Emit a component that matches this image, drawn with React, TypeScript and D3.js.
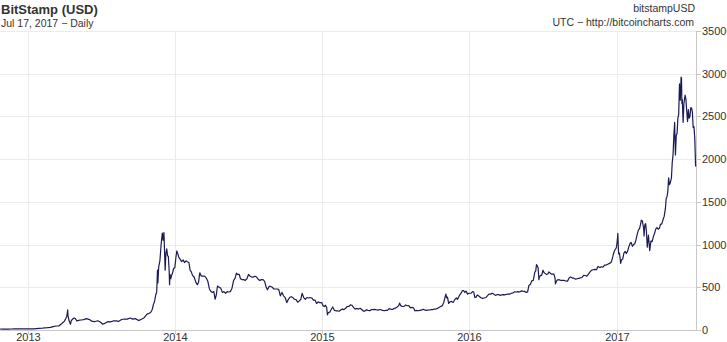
import React from "react";
import * as d3 from "d3";

type Pt = [string, number];

const prices2012: Pt[] = [
  ["2012-10-23", 11.7], ["2012-10-30", 10.9], ["2012-11-06", 10.9], ["2012-11-13", 11.0],
  ["2012-11-20", 11.7], ["2012-11-27", 12.2], ["2012-12-04", 13.4], ["2012-12-11", 13.5],
  ["2012-12-18", 13.3], ["2012-12-25", 13.4], ["2012-12-31", 13.5],
];

const prices2013: Pt[] = [
  ["2013-01-07", 13.6], ["2013-01-14", 14.2], ["2013-01-21", 16.3], ["2013-01-28", 18.9],
  ["2013-02-04", 20.4], ["2013-02-11", 24.3], ["2013-02-18", 26.9], ["2013-02-25", 30.9],
  ["2013-03-04", 40.4], ["2013-03-11", 46.9], ["2013-03-18", 47.4], ["2013-03-25", 74],
  ["2013-03-29", 90], ["2013-04-01", 104], ["2013-04-04", 132], ["2013-04-07", 162],
  ["2013-04-09", 235], ["2013-04-10", 165], ["2013-04-12", 117], ["2013-04-16", 68],
  ["2013-04-18", 110], ["2013-04-21", 126], ["2013-04-25", 141], ["2013-04-28", 134],
  ["2013-05-02", 105], ["2013-05-06", 112], ["2013-05-12", 117], ["2013-05-19", 121],
  ["2013-05-26", 133], ["2013-06-02", 122], ["2013-06-09", 100], ["2013-06-16", 99],
  ["2013-06-23", 108], ["2013-06-30", 90], ["2013-07-05", 68], ["2013-07-10", 77],
  ["2013-07-17", 97], ["2013-07-24", 95], ["2013-07-31", 106], ["2013-08-07", 106],
  ["2013-08-14", 101], ["2013-08-21", 123], ["2013-08-28", 129], ["2013-09-04", 128],
  ["2013-09-11", 140], ["2013-09-18", 127], ["2013-09-25", 133], ["2013-10-02", 110],
  ["2013-10-09", 126], ["2013-10-16", 144], ["2013-10-23", 186], ["2013-10-28", 195],
  ["2013-11-01", 205], ["2013-11-05", 240], ["2013-11-08", 300], ["2013-11-11", 340],
  ["2013-11-14", 420], ["2013-11-16", 440], ["2013-11-18", 700], ["2013-11-19", 550],
  ["2013-11-21", 740], ["2013-11-24", 810], ["2013-11-27", 1000], ["2013-11-30", 1135],
  ["2013-12-02", 1050], ["2013-12-04", 1140], ["2013-12-05", 1000], ["2013-12-07", 700],
  ["2013-12-09", 900], ["2013-12-11", 950], ["2013-12-13", 870], ["2013-12-15", 860],
  ["2013-12-17", 690], ["2013-12-18", 530], ["2013-12-19", 650], ["2013-12-21", 600],
  ["2013-12-23", 640], ["2013-12-25", 660], ["2013-12-28", 720], ["2013-12-31", 730],
];

const prices2014: Pt[] = [
  ["2014-01-03", 860], ["2014-01-05", 925], ["2014-01-07", 900], ["2014-01-10", 850],
  ["2014-01-13", 830], ["2014-01-17", 800], ["2014-01-21", 820], ["2014-01-24", 790],
  ["2014-01-28", 810], ["2014-01-31", 800], ["2014-02-04", 790], ["2014-02-07", 700],
  ["2014-02-10", 680], ["2014-02-13", 640], ["2014-02-17", 620], ["2014-02-21", 560],
  ["2014-02-25", 530], ["2014-02-28", 560], ["2014-03-03", 670], ["2014-03-07", 630],
  ["2014-03-11", 630], ["2014-03-15", 630], ["2014-03-19", 610], ["2014-03-23", 570],
  ["2014-03-27", 480], ["2014-03-31", 450], ["2014-04-03", 440], ["2014-04-07", 450],
  ["2014-04-10", 360], ["2014-04-13", 410], ["2014-04-16", 515], ["2014-04-20", 500],
  ["2014-04-24", 490], ["2014-04-28", 440], ["2014-05-02", 450], ["2014-05-06", 430],
  ["2014-05-10", 450], ["2014-05-14", 445], ["2014-05-18", 450], ["2014-05-22", 490],
  ["2014-05-26", 580], ["2014-05-30", 610], ["2014-06-02", 665], ["2014-06-05", 650],
  ["2014-06-09", 650], ["2014-06-12", 600], ["2014-06-16", 590], ["2014-06-20", 590],
  ["2014-06-24", 580], ["2014-06-28", 600], ["2014-07-02", 650], ["2014-07-06", 630],
  ["2014-07-10", 620], ["2014-07-14", 620], ["2014-07-18", 630], ["2014-07-22", 620],
  ["2014-07-26", 595], ["2014-07-30", 580], ["2014-08-03", 590], ["2014-08-07", 590],
  ["2014-08-11", 570], ["2014-08-15", 500], ["2014-08-18", 470], ["2014-08-22", 510],
  ["2014-08-26", 510], ["2014-08-30", 500], ["2014-09-03", 480], ["2014-09-07", 480],
  ["2014-09-11", 480], ["2014-09-15", 475], ["2014-09-19", 400], ["2014-09-23", 440],
  ["2014-09-27", 400], ["2014-10-01", 380], ["2014-10-05", 320], ["2014-10-08", 350],
  ["2014-10-12", 380], ["2014-10-16", 390], ["2014-10-20", 380], ["2014-10-24", 360],
  ["2014-10-28", 355], ["2014-11-01", 325], ["2014-11-05", 340], ["2014-11-09", 360],
  ["2014-11-12", 430], ["2014-11-16", 380], ["2014-11-20", 360], ["2014-11-24", 380],
  ["2014-11-28", 375], ["2014-12-02", 380], ["2014-12-06", 375], ["2014-12-10", 350],
  ["2014-12-14", 350], ["2014-12-18", 310], ["2014-12-22", 330], ["2014-12-26", 320],
  ["2014-12-31", 320],
];

const prices2015: Pt[] = [
  ["2015-01-03", 285], ["2015-01-06", 275], ["2015-01-09", 290], ["2015-01-12", 265],
  ["2015-01-14", 178], ["2015-01-16", 205], ["2015-01-20", 210], ["2015-01-24", 245],
  ["2015-01-27", 270], ["2015-01-31", 230], ["2015-02-04", 225], ["2015-02-08", 225],
  ["2015-02-12", 220], ["2015-02-16", 235], ["2015-02-20", 245], ["2015-02-24", 238],
  ["2015-02-28", 255], ["2015-03-04", 275], ["2015-03-08", 275], ["2015-03-12", 295],
  ["2015-03-16", 290], ["2015-03-20", 262], ["2015-03-24", 245], ["2015-03-28", 252],
  ["2015-04-01", 245], ["2015-04-05", 255], ["2015-04-09", 240], ["2015-04-13", 222],
  ["2015-04-17", 222], ["2015-04-21", 236], ["2015-04-25", 230], ["2015-04-29", 225],
  ["2015-05-03", 240], ["2015-05-07", 238], ["2015-05-11", 242], ["2015-05-15", 237],
  ["2015-05-19", 232], ["2015-05-23", 240], ["2015-05-27", 237], ["2015-05-31", 230],
  ["2015-06-04", 225], ["2015-06-08", 229], ["2015-06-12", 230], ["2015-06-16", 250],
  ["2015-06-20", 244], ["2015-06-24", 240], ["2015-06-28", 250], ["2015-07-02", 256],
  ["2015-07-06", 270], ["2015-07-10", 285], ["2015-07-12", 315], ["2015-07-15", 285],
  ["2015-07-19", 275], ["2015-07-23", 277], ["2015-07-27", 293], ["2015-07-31", 284],
  ["2015-08-04", 285], ["2015-08-08", 260], ["2015-08-12", 265], ["2015-08-16", 258],
  ["2015-08-19", 225], ["2015-08-23", 230], ["2015-08-27", 225], ["2015-08-31", 230],
  ["2015-09-04", 232], ["2015-09-08", 243], ["2015-09-12", 235], ["2015-09-16", 230],
  ["2015-09-20", 232], ["2015-09-24", 234], ["2015-09-28", 239], ["2015-10-02", 238],
  ["2015-10-06", 246], ["2015-10-10", 245], ["2015-10-14", 253], ["2015-10-18", 263],
  ["2015-10-22", 275], ["2015-10-26", 285], ["2015-10-30", 325], ["2015-11-03", 405],
  ["2015-11-04", 420], ["2015-11-06", 375], ["2015-11-08", 385], ["2015-11-11", 310],
  ["2015-11-14", 330], ["2015-11-18", 335], ["2015-11-22", 322], ["2015-11-26", 355],
  ["2015-11-30", 375], ["2015-12-03", 360], ["2015-12-06", 390], ["2015-12-09", 415],
  ["2015-12-12", 435], ["2015-12-15", 460], ["2015-12-18", 462], ["2015-12-21", 440],
  ["2015-12-24", 455], ["2015-12-28", 420], ["2015-12-31", 430],
];

const prices2016: Pt[] = [
  ["2016-01-03", 430], ["2016-01-06", 430], ["2016-01-09", 450], ["2016-01-12", 445],
  ["2016-01-15", 380], ["2016-01-18", 385], ["2016-01-21", 410], ["2016-01-24", 400],
  ["2016-01-27", 390], ["2016-01-30", 378], ["2016-02-03", 370], ["2016-02-07", 375],
  ["2016-02-11", 380], ["2016-02-15", 400], ["2016-02-19", 420], ["2016-02-23", 420],
  ["2016-02-27", 430], ["2016-03-02", 420], ["2016-03-06", 405], ["2016-03-10", 413],
  ["2016-03-14", 415], ["2016-03-18", 405], ["2016-03-22", 412], ["2016-03-26", 415],
  ["2016-03-30", 412], ["2016-04-03", 418], ["2016-04-07", 420], ["2016-04-11", 421],
  ["2016-04-15", 430], ["2016-04-19", 435], ["2016-04-23", 448], ["2016-04-27", 445],
  ["2016-05-01", 450], ["2016-05-05", 445], ["2016-05-09", 458], ["2016-05-13", 455],
  ["2016-05-17", 453], ["2016-05-21", 440], ["2016-05-25", 447], ["2016-05-28", 520],
  ["2016-06-01", 535], ["2016-06-04", 575], ["2016-06-08", 580], ["2016-06-12", 680],
  ["2016-06-14", 690], ["2016-06-16", 765], ["2016-06-18", 750], ["2016-06-20", 730],
  ["2016-06-22", 590], ["2016-06-23", 620], ["2016-06-26", 640], ["2016-06-29", 640],
  ["2016-07-02", 700], ["2016-07-05", 670], ["2016-07-08", 660], ["2016-07-11", 650],
  ["2016-07-14", 655], ["2016-07-17", 680], ["2016-07-20", 665], ["2016-07-23", 655],
  ["2016-07-26", 655], ["2016-07-29", 655], ["2016-08-01", 610], ["2016-08-02", 540],
  ["2016-08-05", 575], ["2016-08-08", 590], ["2016-08-12", 587], ["2016-08-16", 580],
  ["2016-08-20", 580], ["2016-08-24", 580], ["2016-08-28", 573], ["2016-09-01", 572],
  ["2016-09-05", 608], ["2016-09-09", 622], ["2016-09-13", 608], ["2016-09-17", 607],
  ["2016-09-21", 595], ["2016-09-25", 600], ["2016-09-29", 605], ["2016-10-03", 610],
  ["2016-10-07", 615], ["2016-10-11", 640], ["2016-10-15", 638], ["2016-10-19", 630],
  ["2016-10-23", 655], ["2016-10-27", 680], ["2016-10-31", 700], ["2016-11-04", 705],
  ["2016-11-08", 710], ["2016-11-12", 705], ["2016-11-16", 745], ["2016-11-20", 730],
  ["2016-11-24", 740], ["2016-11-28", 735], ["2016-12-02", 760], ["2016-12-06", 760],
  ["2016-12-10", 770], ["2016-12-14", 780], ["2016-12-18", 790], ["2016-12-21", 830],
  ["2016-12-24", 890], ["2016-12-27", 930], ["2016-12-31", 960],
];

const prices2017: Pt[] = [
  ["2017-01-02", 1020], ["2017-01-04", 1130], ["2017-01-05", 990], ["2017-01-06", 890],
  ["2017-01-08", 900], ["2017-01-11", 780], ["2017-01-13", 820], ["2017-01-16", 830],
  ["2017-01-19", 900], ["2017-01-22", 920], ["2017-01-25", 895], ["2017-01-28", 920],
  ["2017-01-31", 970], ["2017-02-03", 1010], ["2017-02-06", 1025], ["2017-02-09", 980],
  ["2017-02-12", 1000], ["2017-02-15", 1010], ["2017-02-18", 1055], ["2017-02-21", 1120],
  ["2017-02-24", 1170], ["2017-02-27", 1190], ["2017-03-02", 1250], ["2017-03-03", 1285],
  ["2017-03-06", 1275], ["2017-03-09", 1190], ["2017-03-10", 1100], ["2017-03-12", 1230],
  ["2017-03-14", 1245], ["2017-03-16", 1150], ["2017-03-18", 970], ["2017-03-21", 1110],
  ["2017-03-24", 930], ["2017-03-27", 1040], ["2017-03-30", 1035], ["2017-04-02", 1090],
  ["2017-04-05", 1130], ["2017-04-08", 1180], ["2017-04-11", 1200], ["2017-04-14", 1180],
  ["2017-04-17", 1190], ["2017-04-20", 1240], ["2017-04-23", 1240], ["2017-04-26", 1290],
  ["2017-04-29", 1330], ["2017-05-02", 1420], ["2017-05-04", 1540], ["2017-05-06", 1560],
  ["2017-05-08", 1620], ["2017-05-10", 1780], ["2017-05-12", 1700], ["2017-05-14", 1720],
  ["2017-05-17", 1780], ["2017-05-19", 1960], ["2017-05-21", 2050], ["2017-05-23", 2280],
  ["2017-05-25", 2430], ["2017-05-26", 2200], ["2017-05-27", 2050], ["2017-05-29", 2280],
  ["2017-05-31", 2300], ["2017-06-02", 2480], ["2017-06-04", 2520], ["2017-06-06", 2880],
  ["2017-06-08", 2690], ["2017-06-10", 2960], ["2017-06-11", 2950], ["2017-06-12", 2650],
  ["2017-06-13", 2700], ["2017-06-15", 2430], ["2017-06-17", 2650], ["2017-06-20", 2750],
  ["2017-06-22", 2700], ["2017-06-24", 2560], ["2017-06-26", 2440], ["2017-06-28", 2580],
  ["2017-06-30", 2480], ["2017-07-02", 2500], ["2017-07-04", 2600], ["2017-07-06", 2600],
  ["2017-07-08", 2550], ["2017-07-10", 2370], ["2017-07-12", 2380], ["2017-07-14", 2240],
  ["2017-07-16", 1920], ["2017-07-17", 1915],
];

const yTicks = [0, 500, 1000, 1500, 2000, 2500, 3000, 3500];
const xTickYears = ["2013", "2014", "2015", "2016", "2017"];

const title = "BitStamp (USD)";
const subtitle = "Jul 17, 2017 \u2212 Daily";
const symbolLabel = "bitstampUSD";
const sourceLabel = "UTC \u2212 http://bitcoincharts.com";

const W = 727;
const H = 342;
const left = 0;
const right = 696;
const top = 31;
const bottom = 330;

export default function App() {
  const parse = d3.utcParse("%Y-%m-%d");
  const data = [...prices2012, ...prices2013, ...prices2014, ...prices2015, ...prices2016, ...prices2017]
    .map(([d, v]) => ({ date: parse(d) as Date, value: v }));

  const x = d3.scaleUtc()
    .domain([parse("2012-10-23") as Date, parse("2017-07-17") as Date])
    .range([left, right]);
  const y = d3.scaleLinear().domain([0, 3500]).range([bottom, top]);

  const line = d3.line<{ date: Date; value: number }>()
    .x((d) => x(d.date))
    .y((d) => y(d.value));

  const font = "'Liberation Sans', Arial, sans-serif";
  const textColor = "#333";
  const gridColor = "#ebebeb";
  const axisColor = "#c8c8c8";

  return (
    <svg width={W} height={H} style={{ position: "absolute", left: 0, top: 0 }} fontFamily={font}>
      <rect x={0} y={0} width={W} height={H} fill="#fff" />
      {yTicks.map((t) => {
        const yy = Math.round(y(t)) + 0.5;
        return (
          <g key={"y" + t}>
            {t > 0 && <line x1={left} x2={right} y1={yy} y2={yy} stroke={gridColor} />}
            <line x1={right} x2={right + 5} y1={yy} y2={yy} stroke={axisColor} />
            <text x={right + 6} y={yy} dy="0.35em" fontSize={11} fill={textColor}>{t}</text>
          </g>
        );
      })}
      {xTickYears.map((yr) => {
        const xx = Math.round(x(parse(yr + "-01-01") as Date)) + 0.5;
        return (
          <g key={"x" + yr}>
            <line x1={xx} x2={xx} y1={top} y2={bottom} stroke={gridColor} />
            <line x1={xx} x2={xx} y1={bottom} y2={bottom + 4} stroke={axisColor} />
            <text x={xx} y={341} textAnchor="middle" fontSize={11} fill={textColor}>{yr}</text>
          </g>
        );
      })}
      <line x1={left} x2={right + 0.5} y1={bottom + 0.5} y2={bottom + 0.5} stroke={axisColor} />
      <line x1={right + 0.5} x2={right + 0.5} y1={top} y2={bottom + 1} stroke={axisColor} />
      <path d={line(data) || ""} fill="none" stroke="#1b1b52" strokeWidth={1.2} strokeLinejoin="round" />
      <text x={1} y={14} fontSize={13} fontWeight="bold" fill={textColor}>{title}</text>
      <text x={1} y={27} fontSize={10.5} fill={textColor}>{subtitle}</text>
      <text x={695} y={12} fontSize={10.5} textAnchor="end" fill={textColor}>{symbolLabel}</text>
      <text x={694} y={26} fontSize={10.5} textAnchor="end" fill={textColor}>{sourceLabel}</text>
    </svg>
  );
}
